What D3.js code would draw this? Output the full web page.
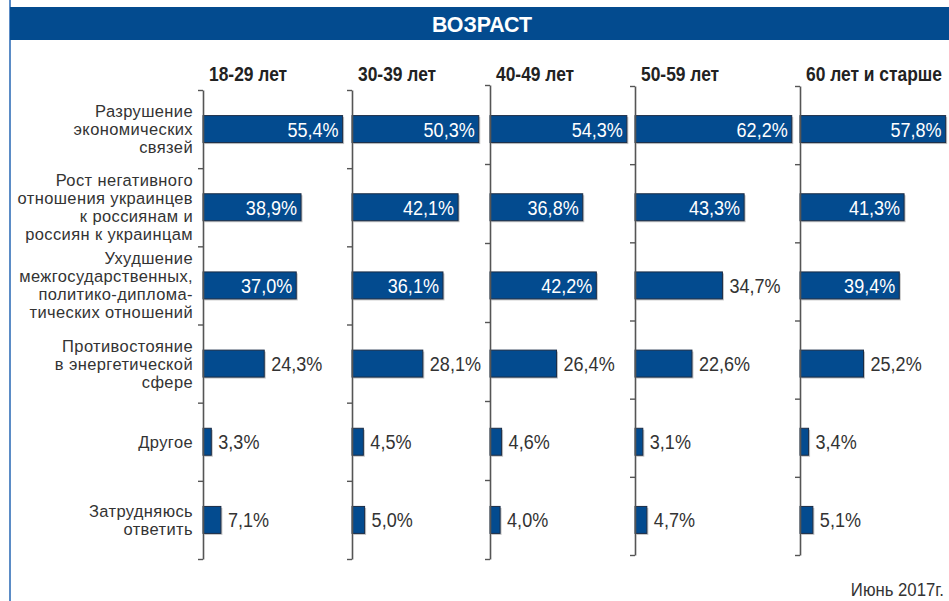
<!DOCTYPE html>
<html>
<head>
<meta charset="utf-8">
<script src="https://cdn.jsdelivr.net/npm/d3@7"></script>
<style>
  body { margin: 0; background: #fff; }
  svg { display: block; }
</style>
</head>
<body>
<div id="chart"></div>
<script>
const title = "ВОЗРАСТ";
const note = "Июнь 2017г.";

const ageGroups = ["18-29 лет", "30-39 лет", "40-49 лет", "50-59 лет", "60 лет и старше"];

const categories = [
  ["Разрушение", "экономических", "связей"],
  ["Рост негативного", "отношения украинцев", "к россиянам и", "россиян к украинцам"],
  ["Ухудшение", "межгосударственных,", "политико-диплома-", "тических отношений"],
  ["Противостояние", "в энергетической", "сфере"],
  ["Другое"],
  ["Затрудняюсь", "ответить"]
];

const values18 = [55.4, 38.9, 37.0, 24.3, 3.3, 7.1];
const values30 = [50.3, 42.1, 36.1, 28.1, 4.5, 5.0];
const values40 = [54.3, 36.8, 42.2, 26.4, 4.6, 4.0];
const values50 = [62.2, 43.3, 34.7, 22.6, 3.1, 4.7];
const values60 = [57.8, 41.3, 39.4, 25.2, 3.4, 5.1];

const seriesValues = [values18, values30, values40, values50, values60];

const W = 949, H = 601;
const BLUE = "#034b8f";
const font = "'Liberation Sans', Arial, sans-serif";

const svg = d3.select("#chart").append("svg")
  .attr("width", W)
  .attr("height", H)
  .style("font-family", font);

// no narrow face installed, so squeeze text horizontally
function squeezed(sel, x, y, sx) {
  return sel.attr("transform", `translate(${x},${y}) scale(${sx},1)`);
}

// frame: left border + header band
svg.append("rect")
  .attr("x", 9).attr("y", 0)
  .attr("width", 2).attr("height", H)
  .attr("fill", "#5b8cc6");

svg.append("rect")
  .attr("x", 10).attr("y", 7)
  .attr("width", W - 10).attr("height", 33)
  .attr("fill", BLUE);

svg.append("text")
  .call(squeezed, 482, 31.5, 0.93)
  .attr("text-anchor", "middle")
  .attr("fill", "#fff")
  .style("font-weight", "bold")
  .style("font-size", "23px")
  .text(title);

// layout per panel
const panelX = [203, 352, 490, 635, 800];
const axisRange = [[90, 559], [90, 559], [85, 559], [86, 555], [86, 555]];

const keys = categories.map((c, i) => i);
const y = d3.scaleBand()
  .domain(keys)
  .range([90, 559])
  .paddingInner(0.655)
  .paddingOuter(0.3275);

const x = d3.scaleLinear().domain([0, 100]).range([0, 252]);

// category labels
const lineH = 18;
const catG = svg.append("g")
  .style("font-size", "17px")
  .style("letter-spacing", "0.4px")
  .attr("fill", "#333");

categories.forEach((lines, i) => {
  const cy = y(i) + y.bandwidth() / 2;
  lines.forEach((ln, j) => {
    catG.append("text")
      .call(squeezed, 193, cy + (j - (lines.length - 1) / 2) * lineH + 6, 0.97)
      .attr("text-anchor", "end")
      .text(ln);
  });
});

// panels
seriesValues.forEach((vals, p) => {
  const g = svg.append("g").attr("transform", `translate(${panelX[p]},0)`);

  g.append("text")
    .call(squeezed, 6, 81, 0.87)
    .attr("fill", "#222")
    .style("font-weight", "bold")
    .style("font-size", "20px")
    .text(ageGroups[p]);

  const bars = g.selectAll("g.bar")
    .data(vals)
    .join("g")
    .attr("class", "bar");

  bars.append("rect")
    .attr("x", 1.5)
    .attr("y", (d, i) => y(i) + 1.5)
    .attr("width", d => x(d))
    .attr("height", y.bandwidth())
    .attr("fill", "#c4c4c4");

  bars.append("rect")
    .attr("x", 0)
    .attr("y", (d, i) => y(i))
    .attr("width", d => x(d))
    .attr("height", y.bandwidth())
    .attr("fill", BLUE)
    .attr("stroke", "#1b2c45")
    .attr("stroke-width", 1);

  bars.append("text")
    .each(function (d, i) {
      const inside = d >= 35;
      d3.select(this)
        .call(squeezed, inside ? x(d) - 4 : x(d) + 7, y(i) + y.bandwidth() / 2 + 7.5, 0.86)
        .attr("text-anchor", inside ? "end" : "start")
        .attr("fill", inside ? "#fff" : "#333");
    })
    .style("font-size", "21px")
    .text(d => d.toFixed(1).replace(".", ",") + "%");

  // axis with ticks at category boundaries
  const yAxisScale = d3.scaleLinear().domain([0, categories.length]).range(axisRange[p]);
  const axis = d3.axisLeft(yAxisScale)
    .tickValues(d3.range(0, categories.length + 1))
    .tickSize(5)
    .tickSizeOuter(0)
    .tickFormat("");
  const ag = g.append("g").call(axis);
  ag.select(".domain").attr("stroke", "#555").attr("stroke-width", 1.6);
  ag.selectAll(".tick line").attr("stroke", "#555").attr("stroke-width", 1.4);
});

svg.append("text")
  .call(squeezed, 944, 596, 0.93)
  .attr("text-anchor", "end")
  .attr("fill", "#333")
  .style("font-size", "18px")
  .text(note);
</script>
</body>
</html>
